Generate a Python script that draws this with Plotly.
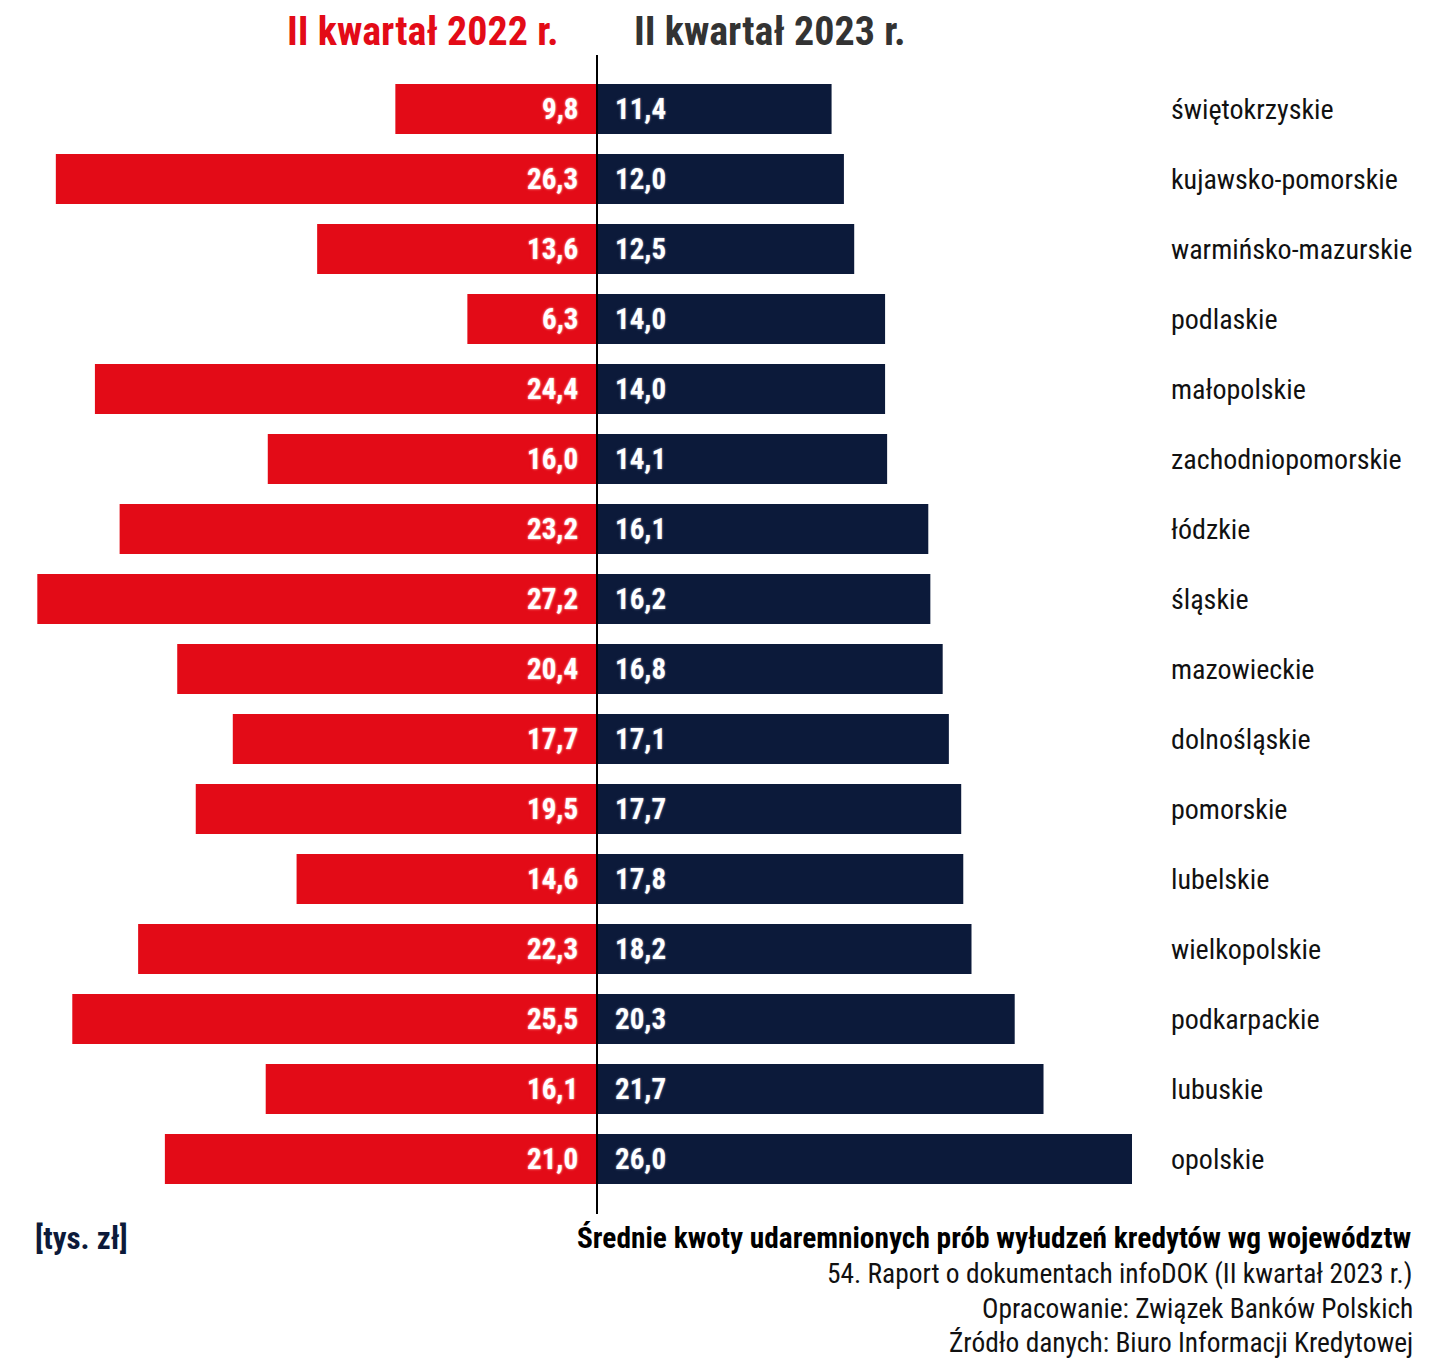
import plotly.graph_objects as go

regions = ["świętokrzyskie", "kujawsko-pomorskie", "warmińsko-mazurskie", "podlaskie",
           "małopolskie", "zachodniopomorskie", "łódzkie", "śląskie", "mazowieckie",
           "dolnośląskie", "pomorskie", "lubelskie", "wielkopolskie", "podkarpackie",
           "lubuskie", "opolskie"]
q2_2022 = [9.8, 26.3, 13.6, 6.3, 24.4, 16.0, 23.2, 27.2, 20.4, 17.7, 19.5, 14.6, 22.3, 25.5, 16.1, 21.0]
q2_2023 = [11.4, 12.0, 12.5, 14.0, 14.0, 14.1, 16.1, 16.2, 16.8, 17.1, 17.7, 17.8, 18.2, 20.3, 21.7, 26.0]

RED = "#E30B17"
NAVY = "#0C1A3A"
FONT = "Roboto Condensed, Liberation Sans Narrow, sans-serif"

W, H = 1429, 1354          # page has an 8px body margin
OFF = 8
ZERO = 597                  # page x of the zero line
SCALE = 535 / 26.0          # px per unit
TOP, BOT = 74, 1194         # page y of plot area

def fmt(v):
    return f"{v:.1f}".replace(".", ",")

def px(x):   # page x -> paper x
    return (x - OFF) / W

def py(y):   # page y -> paper y
    return (BOT - y) / (BOT - TOP)

def dx(x):   # page x -> data x
    return (x - ZERO) / SCALE

fig = go.Figure()
fig.add_trace(go.Bar(y=regions, x=[-v for v in q2_2022], orientation="h",
                     marker=dict(color=RED, line=dict(width=0)), width=0.715,
                     name="II kwartał 2022 r.", hoverinfo="skip"))
fig.add_trace(go.Bar(y=regions, x=q2_2023, orientation="h",
                     marker=dict(color=NAVY, line=dict(width=0)), width=0.715,
                     name="II kwartał 2023 r.", hoverinfo="skip"))

ann = []
for r, a, b in zip(regions, q2_2022, q2_2023):
    ann.append(dict(x=dx(580), y=r, xref="x", yref="y", text=fmt(a), showarrow=False,
                    xanchor="right", yanchor="middle",
                    font=dict(family=FONT, size=29, color="white", weight="bold",
                              shadow="0 0 3px #ff7a7a, 0 0 2px #ff7a7a, 0 0 1px #ff9a9a")))
    ann.append(dict(x=dx(613), y=r, xref="x", yref="y", text=fmt(b), showarrow=False,
                    xanchor="left", yanchor="middle",
                    font=dict(family=FONT, size=29, color="white", weight="bold",
                              shadow="0 0 3px #525d7c, 0 0 2px #525d7c, 0 0 1px #6a7490")))
    ann.append(dict(x=px(1169), y=r, xref="paper", yref="y", text=r, showarrow=False,
                    xanchor="left", yanchor="middle",
                    font=dict(family=FONT, size=28, color="#111111")))

ann += [
    dict(x=px(423), y=py(31), xref="paper", yref="paper", text="II kwartał 2022 r.",
         showarrow=False, xanchor="center", yanchor="middle",
         font=dict(family=FONT, size=40, color=RED, weight="bold")),
    dict(x=px(770), y=py(31), xref="paper", yref="paper", text="II kwartał 2023 r.",
         showarrow=False, xanchor="center", yanchor="middle",
         font=dict(family=FONT, size=40, color="#333333", weight="bold")),
    dict(x=px(33), y=py(1238), xref="paper", yref="paper", text="[tys. zł]",
         showarrow=False, xanchor="left", yanchor="middle",
         font=dict(family=FONT, size=31, color=NAVY, weight="bold")),
    dict(x=px(1413), y=py(1238), xref="paper", yref="paper",
         text="Średnie kwoty udaremnionych prób wyłudzeń kredytów wg województw",
         showarrow=False, xanchor="right", yanchor="middle",
         font=dict(family=FONT, size=29.4, color="#000000", weight="bold")),
    dict(x=px(1415), y=py(1274), xref="paper", yref="paper",
         text="54. Raport o dokumentach infoDOK (II kwartał 2023 r.)",
         showarrow=False, xanchor="right", yanchor="middle",
         font=dict(family=FONT, size=27.4, color="#111111")),
    dict(x=px(1415), y=py(1309), xref="paper", yref="paper",
         text="Opracowanie: Związek Banków Polskich",
         showarrow=False, xanchor="right", yanchor="middle",
         font=dict(family=FONT, size=27.4, color="#111111")),
    dict(x=px(1415), y=py(1343), xref="paper", yref="paper",
         text="Źródło danych: Biuro Informacji Kredytowej",
         showarrow=False, xanchor="right", yanchor="middle",
         font=dict(family=FONT, size=27.4, color="#111111")),
]

fig.update_layout(
    width=W, height=H,
    margin=dict(l=0, r=0, t=TOP - OFF, b=H - (BOT - OFF)),
    paper_bgcolor="white", plot_bgcolor="white",
    barmode="overlay", showlegend=False,
    xaxis=dict(range=[dx(OFF), dx(OFF + W)], visible=False, fixedrange=True),
    yaxis=dict(range=[15.5, -0.5], visible=False, fixedrange=True),
    annotations=ann,
    shapes=[dict(type="line", xref="x", yref="paper", x0=0, x1=0,
                 y0=py(1214), y1=py(55), line=dict(color="black", width=2))],
    font=dict(family=FONT),
)

fig.write_html("out.html")
